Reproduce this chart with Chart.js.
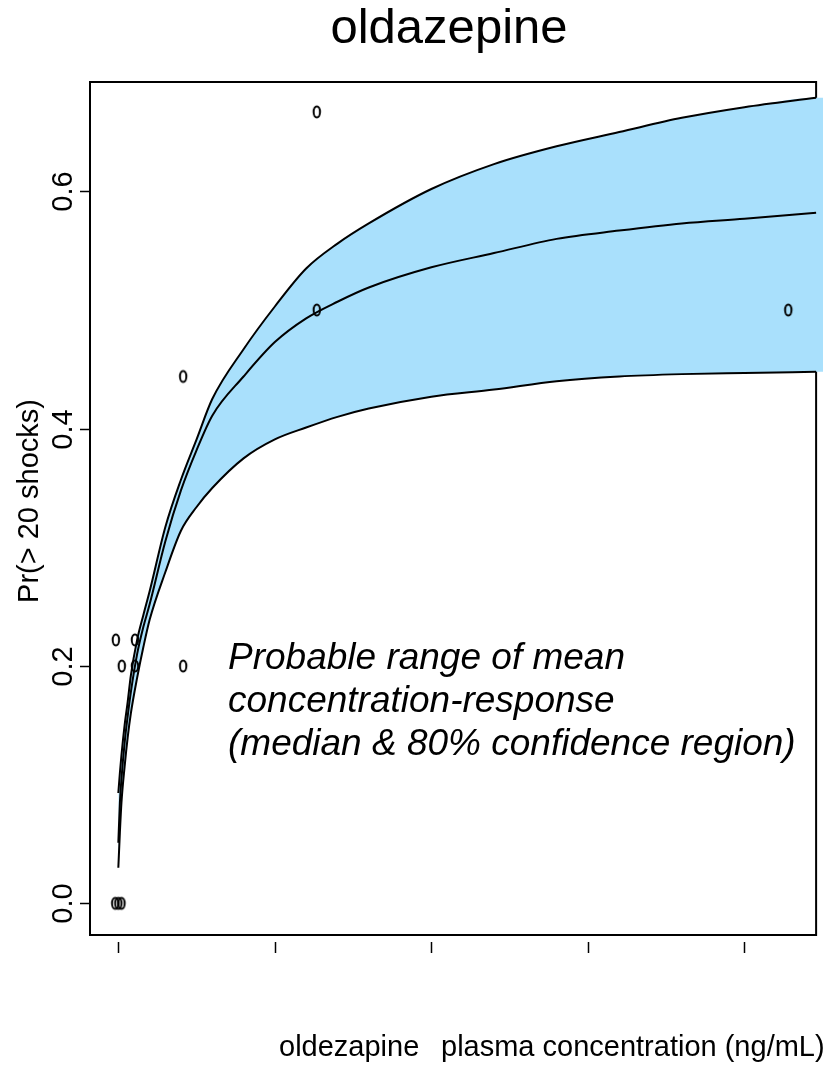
<!DOCTYPE html>
<html>
<head>
<meta charset="utf-8">
<title>oldazepine</title>
<script src="https://cdn.jsdelivr.net/npm/chart.js@4/dist/chart.umd.min.js"></script>
<style>
  html, body { margin: 0; padding: 0; background: #fff; }
  #wrap { width: 831px; height: 1066px; position: relative; }
</style>
</head>
<body>
<div id="wrap"><canvas id="chart"></canvas></div>
<script>
// Concentration grid (ng/mL) and the three summary curves
const concX  = [0, 0.5, 1, 2, 3, 4, 6, 8, 10, 15, 20, 25, 30, 40, 50, 60, 70, 80, 100, 120, 140, 160, 180, 200, 222.9];
const upper  = [0.093, 0.110, 0.125, 0.150, 0.170, 0.192, 0.222, 0.243, 0.263, 0.317, 0.357, 0.391, 0.425, 0.467, 0.503, 0.535, 0.556, 0.573, 0.602, 0.623, 0.638, 0.650, 0.662, 0.671, 0.679];
const median = [0.051, 0.085, 0.105, 0.135, 0.158, 0.178, 0.210, 0.233, 0.252, 0.305, 0.348, 0.382, 0.411, 0.444, 0.473, 0.493, 0.507, 0.519, 0.536, 0.548, 0.560, 0.567, 0.573, 0.577, 0.582];
const lower  = [0.030, 0.060, 0.085, 0.115, 0.140, 0.160, 0.190, 0.216, 0.239, 0.279, 0.314, 0.334, 0.350, 0.375, 0.391, 0.401, 0.410, 0.417, 0.427, 0.433, 0.440, 0.444, 0.446, 0.447, 0.448];
const bandEndX = 225.1;   // shaded region runs a little past the box
const plotEndX = 222.9;   // right edge of the plot box

// Observed subjects
const obsX = [-1.0, 0, 1.0, -0.8, 1.1, 5.3, 5.3, 20.7, 20.7, 63.4, 63.4, 214];
const obsY = [0, 0, 0, 0.222, 0.2, 0.222, 0.2, 0.2, 0.444, 0.667, 0.5, 0.5];

// Axes
const xMin = -9.05, xMax = 225.1;
const yMin = -0.0267, yMax = 0.6922;
const xTicks = [0, 50, 100, 150, 200];
const yTicks = [0, 0.2, 0.4, 0.6];
const yTickLabels = ['0.0', '0.2', '0.4', '0.6'];

// Text
const chartTitle = 'oldazepine';
const yTitle = 'Pr(> 20 shocks)';
const xTitleParts = ['oldezapine', 'plasma concentration (ng/mL)'];
const noteLines = ['Probable range of mean', 'concentration-response', '(median & 80% confidence region)'];

const FONT = '"Liberation Sans", Arial, Helvetica, sans-serif';
const BAND = '#a9e0fc';

function ellipseMarker() {
  const c = document.createElement('canvas');
  c.width = 12; c.height = 18;
  const g = c.getContext('2d');
  g.strokeStyle = '#000';
  g.lineWidth = 2;
  g.beginPath();
  g.ellipse(6, 9, 3.2, 5.6, 0, 0, Math.PI * 2);
  g.stroke();
  return c;
}

const toXY = (xs, ys) => xs.map((x, i) => ({ x, y: ys[i] }));
const bandTop = toXY(concX, upper).concat([{ x: bandEndX, y: upper[upper.length - 1] }]);
const bandBottom = toXY(concX, lower).concat([{ x: bandEndX, y: lower[lower.length - 1] }]);

const curve = (data, order) => ({
  data, order,
  borderColor: '#000', borderWidth: 2,
  pointRadius: 0, fill: false,
  cubicInterpolationMode: 'monotone'
});

// Box is painted before the band (band covers it on the right), ticks and text after
const framePlugin = {
  id: 'frame',
  beforeDatasetsDraw(chart) {
    const { ctx, chartArea: a, scales: { x } } = chart;
    const right = x.getPixelForValue(plotEndX);
    ctx.save();
    ctx.strokeStyle = '#000';
    ctx.lineWidth = 2;
    ctx.strokeRect(a.left, a.top, right - a.left, a.bottom - a.top);
    ctx.restore();
  },
  afterDraw(chart) {
    const { ctx, chartArea: a, scales: { x, y } } = chart;
    ctx.save();
    ctx.strokeStyle = '#000';
    ctx.fillStyle = '#000';
    ctx.lineWidth = 1.5;

    // x ticks (no labels)
    xTicks.forEach(v => {
      const px = Math.round(x.getPixelForValue(v)) + 0.5;
      ctx.beginPath();
      ctx.moveTo(px, a.bottom + 7);
      ctx.lineTo(px, a.bottom + 18);
      ctx.stroke();
    });

    // y ticks + rotated labels
    ctx.font = '29px ' + FONT;
    ctx.textAlign = 'center';
    ctx.textBaseline = 'alphabetic';
    yTicks.forEach((v, i) => {
      const py = Math.round(y.getPixelForValue(v)) + 0.5;
      ctx.beginPath();
      ctx.moveTo(a.left - 10, py);
      ctx.lineTo(a.left, py);
      ctx.stroke();
      ctx.save();
      ctx.translate(a.left - 18, py);
      ctx.rotate(-Math.PI / 2);
      ctx.fillText(yTickLabels[i], 0, 0);
      ctx.restore();
    });

    // y title
    ctx.save();
    ctx.translate(38, 501);
    ctx.rotate(-Math.PI / 2);
    ctx.fillText(yTitle, 0, 0);
    ctx.restore();

    // x title (two pieces)
    ctx.textAlign = 'left';
    ctx.fillText(xTitleParts[0], 279, 1056);
    ctx.fillText(xTitleParts[1], 441, 1056);

    // main title
    ctx.textAlign = 'center';
    ctx.font = '49px ' + FONT;
    ctx.fillText(chartTitle, 449, 43);

    // note
    ctx.textAlign = 'left';
    ctx.font = 'italic 37px ' + FONT;
    noteLines.forEach((t, i) => ctx.fillText(t, 228, 669 + i * 43));

    ctx.restore();
  }
};

new Chart(document.getElementById('chart'), {
  type: 'line',
  data: {
    datasets: [
      {
        type: 'scatter',
        data: toXY(obsX, obsY),
        order: 0,
        showLine: false,
        pointStyle: ellipseMarker(),
        pointRadius: 5
      },
      curve(toXY(concX, upper), 1),
      curve(toXY(concX, median), 2),
      curve(toXY(concX, lower), 3),
      {
        data: bandTop, order: 5,
        borderWidth: 0, pointRadius: 0,
        backgroundColor: BAND,
        fill: '+1',
        cubicInterpolationMode: 'monotone'
      },
      {
        data: bandBottom, order: 6,
        borderWidth: 0, pointRadius: 0,
        fill: false,
        cubicInterpolationMode: 'monotone'
      }
    ]
  },
  options: {
    responsive: true,
    maintainAspectRatio: false,
    animation: false,
    layout: { padding: { left: 90, top: 82, right: 8, bottom: 131 } },
    plugins: {
      legend: { display: false },
      tooltip: { enabled: false },
      title: { display: false }
    },
    scales: {
      x: { type: 'linear', min: xMin, max: xMax, display: false },
      y: { type: 'linear', min: yMin, max: yMax, display: false }
    }
  },
  plugins: [framePlugin]
});
</script>
</body>
</html>
